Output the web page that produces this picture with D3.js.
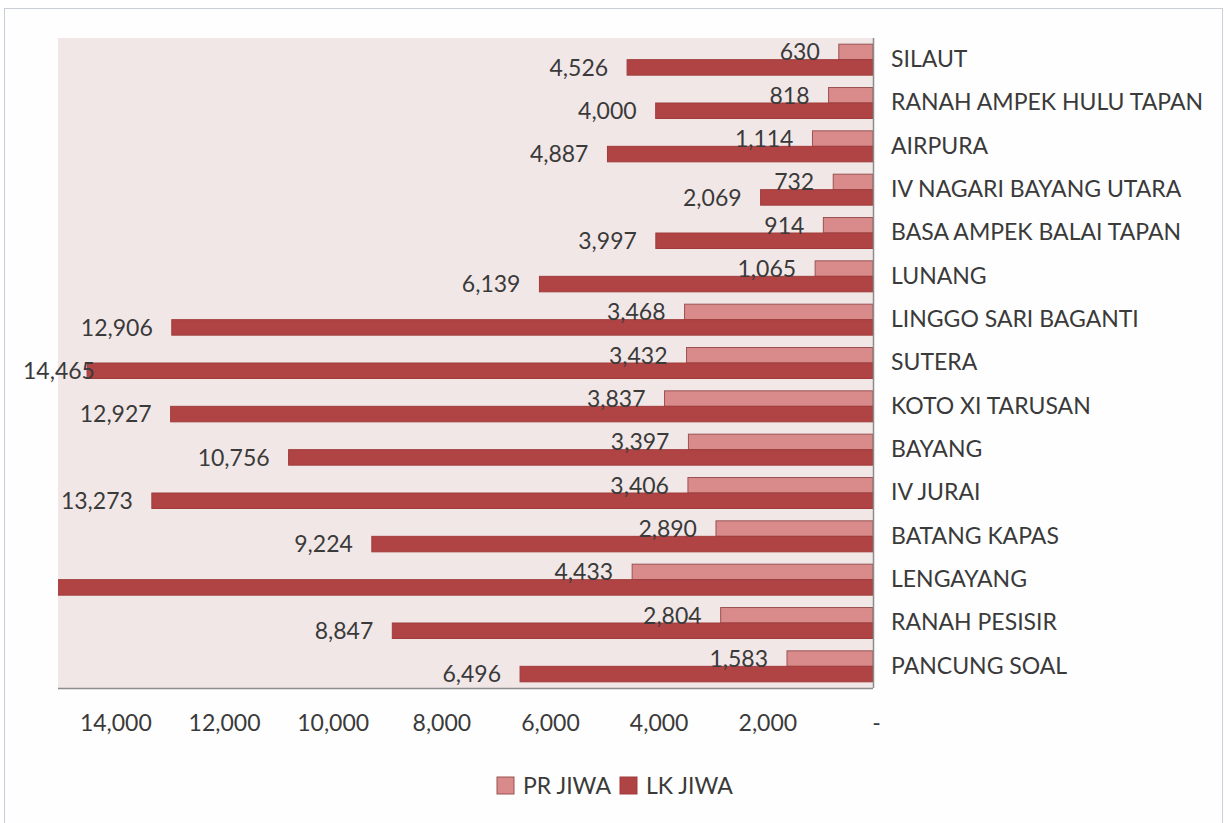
<!DOCTYPE html>
<html>
<head>
<meta charset="utf-8">
<script src="https://cdn.jsdelivr.net/npm/d3@7"></script>
<style>
  body { margin: 0; background: #fff; }
  svg text { font-family: Lato, "Open Sans", sans-serif; fill: #3a3a3a; }
</style>
</head>
<body>
<svg id="chart"></svg>
<script>
const w = 1225;
const h = 823;

const categories = ["SILAUT", "RANAH AMPEK HULU TAPAN", "AIRPURA", "IV NAGARI BAYANG UTARA",
  "BASA AMPEK BALAI TAPAN", "LUNANG", "LINGGO SARI BAGANTI", "SUTERA", "KOTO XI TARUSAN",
  "BAYANG", "IV JURAI", "BATANG KAPAS", "LENGAYANG", "RANAH PESISIR", "PANCUNG SOAL"];
const prJiwa = [630, 818, 1114, 732, 914, 1065, 3468, 3432, 3837, 3397, 3406, 2890, 4433, 2804, 1583];
// LENGAYANG LK runs past the axis end, its label is not visible in the picture
const lkJiwa = [4526, 4000, 4887, 2069, 3997, 6139, 12906, 14465, 12927, 10756, 13273, 9224, 15900, 8847, 6496];
const xTicks = [14000, 12000, 10000, 8000, 6000, 4000, 2000, 0];
const seriesNames = ["PR JIWA", "LK JIWA"];
const seriesColors = { "PR JIWA": "#d98a8a", "LK JIWA": "#b04444" };
const seriesStroke = { "PR JIWA": "#9a5252", "LK JIWA": "#a03c3c" };

const svg = d3.select("#chart")
  .attr("width", w)
  .attr("height", h)
  .attr("viewBox", [0, 0, w, h]);

const plot = { left: 58, right: 873, top: 38, bottom: 688 };
const fontSize = 23;

// outer chart border
svg.append("rect")
  .attr("x", 4.5).attr("y", 8.5)
  .attr("width", 1218).attr("height", 830)
  .attr("fill", "#fefefe")
  .attr("stroke", "#c9ced8");

svg.append("rect")
  .attr("x", plot.left).attr("y", plot.top)
  .attr("width", plot.right - plot.left)
  .attr("height", plot.bottom - plot.top)
  .attr("fill", "#f2e7e7");

svg.append("clipPath").attr("id", "clip")
  .append("rect")
  .attr("x", plot.left).attr("y", plot.top)
  .attr("width", plot.right - plot.left)
  .attr("height", plot.bottom - plot.top);

const x = d3.scaleLinear()
  .domain([0, 15000])
  .range([plot.right, plot.left]);

const pad = 0.285;
const y = d3.scaleBand()
  .domain(categories)
  .range([plot.top, plot.bottom])
  .paddingInner(pad)
  .paddingOuter(pad / 2);

const ySub = d3.scaleBand()
  .domain(seriesNames)
  .range([0, y.bandwidth()]);

const rows = [];
categories.forEach((c, i) => {
  rows.push({ cat: c, series: "PR JIWA", value: prJiwa[i] });
  rows.push({ cat: c, series: "LK JIWA", value: lkJiwa[i] });
});

svg.append("g")
  .attr("clip-path", "url(#clip)")
  .selectAll("rect")
  .data(rows)
  .enter()
  .append("rect")
  .attr("x", d => x(d.value))
  .attr("y", d => y(d.cat) + ySub(d.series))
  .attr("width", d => x(0) - x(d.value))
  .attr("height", ySub.bandwidth())
  .attr("fill", d => seriesColors[d.series])
  .attr("stroke", d => seriesStroke[d.series])
  .attr("stroke-width", 1);

// value labels, to the left of the bar ends
const fmt = d3.format(",");
const labels = svg.append("g")
  .selectAll("text")
  .data(rows.filter(d => d.value <= x.domain()[1]))
  .enter()
  .append("text")
  .text(d => fmt(d.value))
  .attr("font-size", fontSize)
  .attr("text-anchor", "end")
  .attr("x", d => x(d.value) - 19)
  .attr("y", d => y(d.cat) + ySub(d.series) + ySub.bandwidth() / 2)
  .attr("dy", "0.36em");

// keep labels inside the chart area
labels.each(function(d) {
  const tw = this.getComputedTextLength();
  const right = x(d.value) - 19;
  if (right - tw < 23) d3.select(this).attr("x", 23 + tw);
});

// axes lines
svg.append("line")
  .attr("x1", plot.left).attr("x2", plot.right)
  .attr("y1", plot.bottom + 0.5).attr("y2", plot.bottom + 0.5)
  .attr("stroke", "#8c8c8c").attr("stroke-width", 1.5);
svg.append("line")
  .attr("x1", plot.right + 0.5).attr("x2", plot.right + 0.5)
  .attr("y1", plot.top).attr("y2", plot.bottom)
  .attr("stroke", "#8c8c8c").attr("stroke-width", 1.5);

const xAxis = d3.axisBottom(x)
  .tickValues(xTicks)
  .tickSize(0)
  .tickFormat(d => d === 0 ? "-" : fmt(d));

svg.append("g")
  .attr("transform", `translate(3, ${plot.bottom})`)
  .call(xAxis)
  .call(g => g.select(".domain").remove())
  .selectAll("text")
  .attr("font-size", fontSize)
  .attr("font-family", null)
  .attr("fill", null)
  .attr("y", 35)
  .attr("dy", "0.36em");

const yAxis = d3.axisRight(y)
  .tickSize(0)
  .tickPadding(18);

svg.append("g")
  .attr("transform", `translate(${plot.right}, 0)`)
  .call(yAxis)
  .call(g => g.select(".domain").remove())
  .selectAll("text")
  .attr("font-size", fontSize)
  .attr("font-family", null)
  .attr("fill", null);

// legend
const legend = svg.append("g")
  .attr("transform", "translate(497, 786)");
const legendX = [0, 123];
seriesNames.forEach((s, i) => {
  const g = legend.append("g").attr("transform", `translate(${legendX[i]}, 0)`);
  g.append("rect")
    .attr("x", 0).attr("y", -9)
    .attr("width", 17).attr("height", 17)
    .attr("fill", seriesColors[s])
    .attr("stroke", seriesStroke[s]);
  g.append("text")
    .attr("x", 26).attr("y", 0)
    .attr("dy", "0.36em")
    .attr("font-size", fontSize)
    .text(s);
});
</script>
</body>
</html>
